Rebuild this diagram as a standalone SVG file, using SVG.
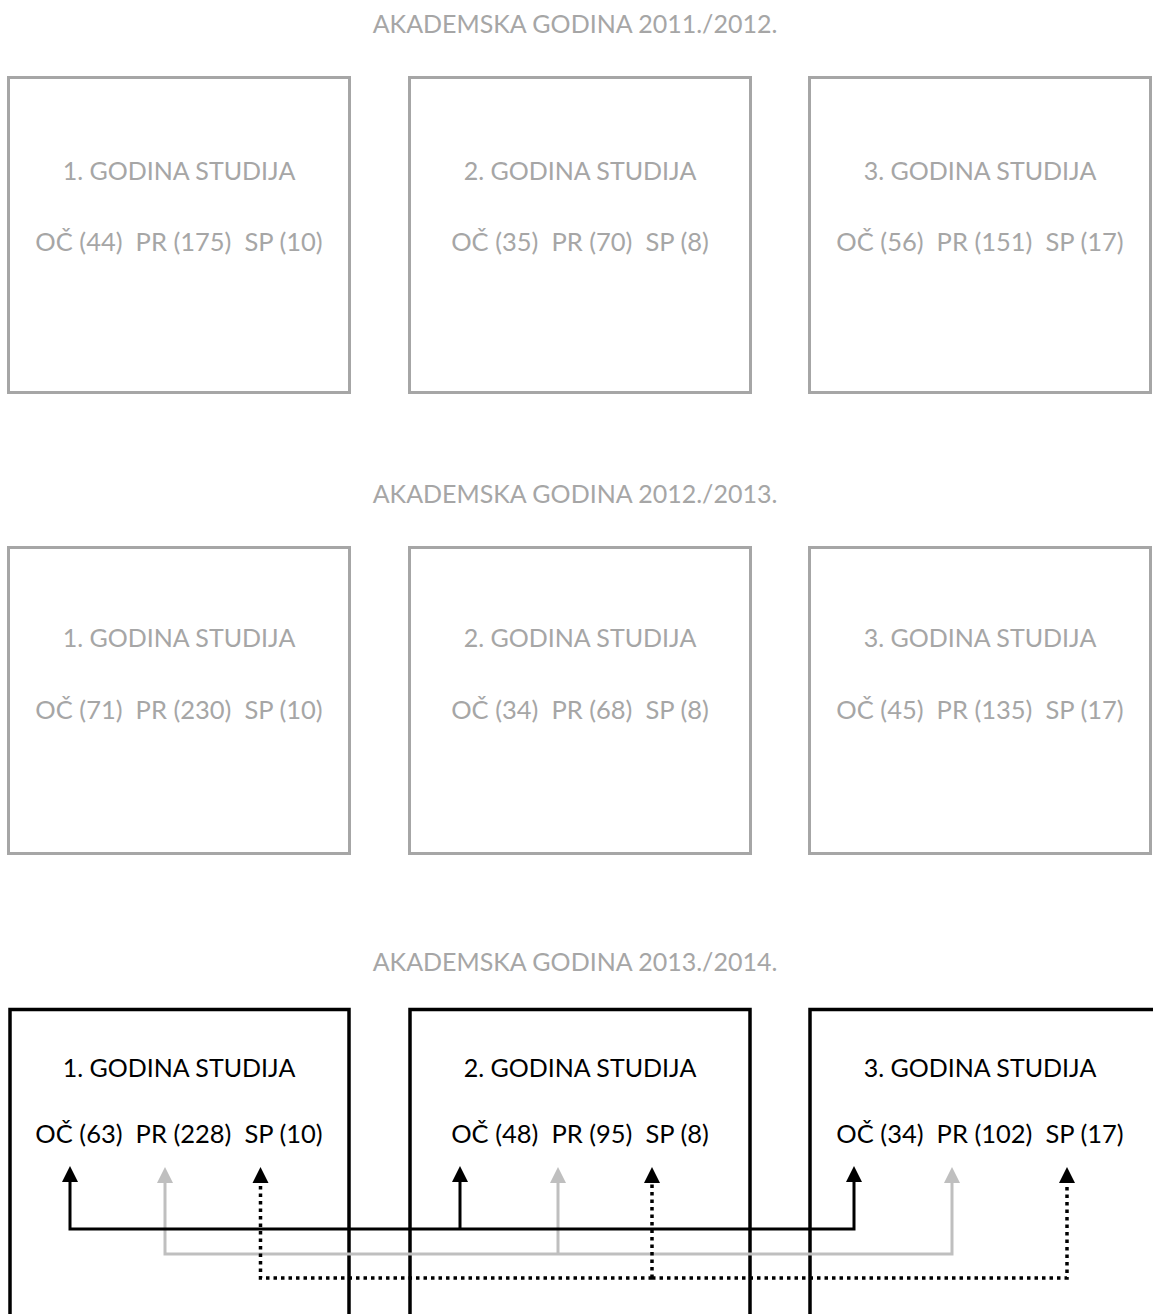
<svg xmlns="http://www.w3.org/2000/svg" width="1153" height="1314" viewBox="0 0 1153 1314">
<style>
text{font-family:Lato,"Liberation Sans",sans-serif;font-size:25px;text-anchor:middle;white-space:pre}
.g text{fill:#a6a6a6}
.k text{fill:#000}
text.v{font-size:25.5px}
.gb{fill:none;stroke:#a6a6a6;stroke-width:3}
.kb{fill:none;stroke:#000;stroke-width:3.5}
.hd{fill:#a6a6a6}
</style>
<defs>
<marker id="ak" viewBox="0 0 16 16" markerWidth="16" markerHeight="16" refX="0" refY="8" orient="auto" markerUnits="userSpaceOnUse"><path d="M0,0 L16,8 L0,16 Z" fill="#000"/></marker>
<marker id="ag" viewBox="0 0 16 16" markerWidth="16" markerHeight="16" refX="0" refY="8" orient="auto" markerUnits="userSpaceOnUse"><path d="M0,0 L16,8 L0,16 Z" fill="#bfbfbf"/></marker>
</defs>
<rect width="1153" height="1314" fill="#fff"/>
<text class="hd" x="575" y="33">AKADEMSKA GODINA 2011./2012.</text>
<text class="hd" x="575" y="503">AKADEMSKA GODINA 2012./2013.</text>
<text class="hd" x="575" y="971">AKADEMSKA GODINA 2013./2014.</text>

<g id="r1n1" class="g"><rect class="gb" x="8.5" y="77.5" width="341" height="315"/><text x="179" y="180">1. GODINA STUDIJA</text><text class="v" x="179" y="251">OČ (44)  PR (175)  SP (10)</text></g>
<g id="r1n2" class="g"><rect class="gb" x="409.5" y="77.5" width="341" height="315"/><text x="580" y="180">2. GODINA STUDIJA</text><text class="v" x="580" y="251">OČ (35)  PR (70)  SP (8)</text></g>
<g id="r1n3" class="g"><rect class="gb" x="809.5" y="77.5" width="341" height="315"/><text x="980" y="180">3. GODINA STUDIJA</text><text class="v" x="980" y="251">OČ (56)  PR (151)  SP (17)</text></g>

<g id="r2n1" class="g"><rect class="gb" x="8.5" y="547.5" width="341" height="306"/><text x="179" y="647">1. GODINA STUDIJA</text><text class="v" x="179" y="719">OČ (71)  PR (230)  SP (10)</text></g>
<g id="r2n2" class="g"><rect class="gb" x="409.5" y="547.5" width="341" height="306"/><text x="580" y="647">2. GODINA STUDIJA</text><text class="v" x="580" y="719">OČ (34)  PR (68)  SP (8)</text></g>
<g id="r2n3" class="g"><rect class="gb" x="809.5" y="547.5" width="341" height="306"/><text x="980" y="647">3. GODINA STUDIJA</text><text class="v" x="980" y="719">OČ (45)  PR (135)  SP (17)</text></g>

<g id="r3n1" class="k"><rect class="kb" x="10" y="1009.5" width="339" height="330"/><text x="179" y="1077">1. GODINA STUDIJA</text><text class="v" x="179" y="1143">OČ (63)  PR (228)  SP (10)</text></g>
<g id="r3n2" class="k"><rect class="kb" x="410" y="1009.5" width="340" height="330"/><text x="580" y="1077">2. GODINA STUDIJA</text><text class="v" x="580" y="1143">OČ (48)  PR (95)  SP (8)</text></g>
<g id="r3n3" class="k"><rect class="kb" x="810" y="1009.5" width="345" height="330"/><text x="980" y="1077">3. GODINA STUDIJA</text><text class="v" x="980" y="1143">OČ (34)  PR (102)  SP (17)</text></g>

<g id="connectors" fill="none">
<g stroke="#bfbfbf" stroke-width="3">
<path d="M558,1254 H165 V1183" marker-end="url(#ag)"/>
<path d="M558,1254 V1183" marker-end="url(#ag)"/>
<path d="M558,1254 H952 V1183" marker-end="url(#ag)"/>
</g>
<g stroke="#000" stroke-width="3">
<path d="M460,1229 H70 V1182" marker-end="url(#ak)"/>
<path d="M460,1229 V1182" marker-end="url(#ak)"/>
<path d="M460,1229 H854 V1182" marker-end="url(#ak)"/>
</g>
<g stroke="#000" stroke-width="3.5" stroke-dasharray="3.5 4">
<path d="M652,1278 H260.5 V1184"/>
<path d="M652,1278 V1184"/>
<path d="M652,1278 H1067 V1184"/>
</g>
<g fill="#000">
<path d="M252.5,1183 L260.5,1167 L268.5,1183 Z"/>
<path d="M644,1183 L652,1167 L660,1183 Z"/>
<path d="M1059,1183 L1067,1167 L1075,1183 Z"/>
</g>
</g>
</svg>
